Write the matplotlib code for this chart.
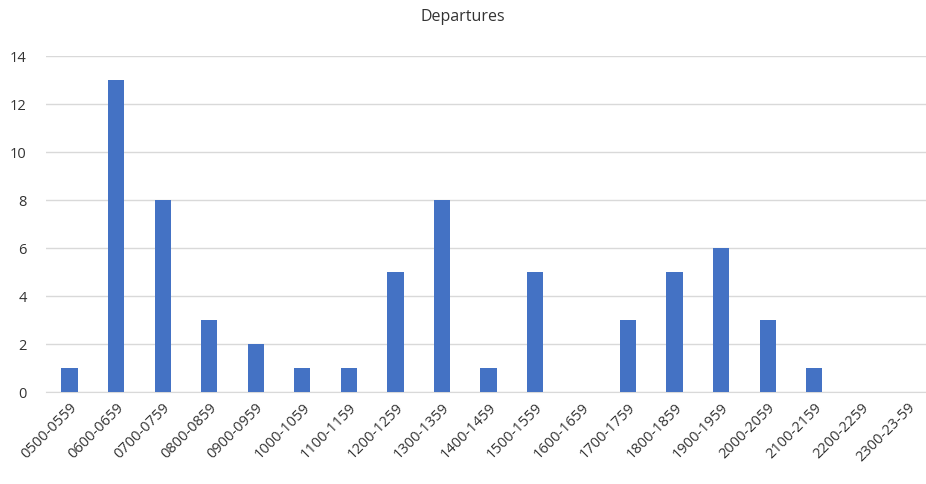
import matplotlib
matplotlib.use("Agg")
import matplotlib.pyplot as plt

slots = ['0500-0559', '0600-0659', '0700-0759', '0800-0859', '0900-0959',
         '1000-1059', '1100-1159', '1200-1259', '1300-1359', '1400-1459',
         '1500-1559', '1600-1659', '1700-1759', '1800-1859', '1900-1959',
         '2000-2059', '2100-2159', '2200-2259', '2300-23-59']
departures = [1, 13, 8, 3, 2, 1, 1, 5, 8, 1, 5, 0, 3, 5, 6, 3, 1, 0, 0]

plt.rcParams['font.family'] = ['Open Sans', 'DejaVu Sans']
text_color = '#333333'

fig = plt.figure(figsize=(9.26, 4.84), dpi=100)
ax = fig.add_axes([0.05, 0.19, 0.955, 0.694])

x = range(len(slots))
ax.bar(x, departures, width=0.35, color='#4472C4', zorder=3)

ax.set_xlim(-0.5, len(slots) - 0.5)
ax.set_ylim(0, 14)
ax.set_yticks(range(0, 15, 2))
ax.grid(axis='y', color='#d9d9d9', linewidth=1, zorder=0)
ax.set_xticks(list(x))
ax.set_xticklabels(slots, rotation=45, ha='right', rotation_mode='anchor')
ax.tick_params(axis='both', length=0, labelsize=10.5, colors=text_color)
ax.tick_params(axis='x', pad=6)
ax.tick_params(axis='y', pad=14)

for s in ['top', 'right', 'left']:
    ax.spines[s].set_visible(False)
ax.spines['bottom'].set_color('#d9d9d9')

fig.text(0.5, 0.965, 'Departures', ha='center', va='center', fontsize=11.5, color=text_color)

fig.savefig('out.png', dpi=100)
